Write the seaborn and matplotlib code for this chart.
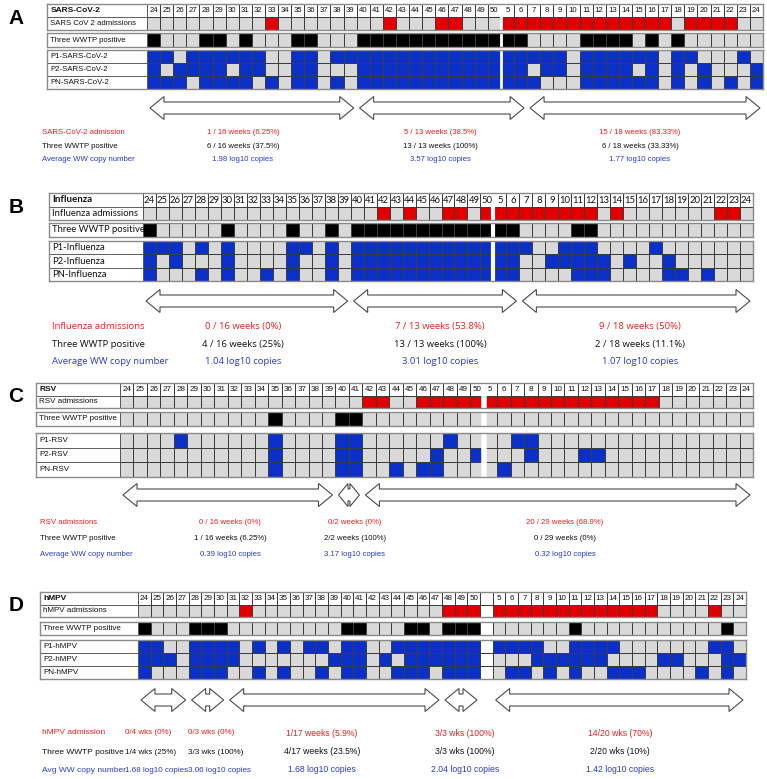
import numpy as np
import matplotlib
matplotlib.use("Agg")
import matplotlib.pyplot as plt
import seaborn as sns
from matplotlib.colors import ListedColormap
from matplotlib.patches import Rectangle, Polygon

# ---------------- data ----------------
weeks_2023 = [24, 25, 26, 27, 28, 29, 30, 31, 32, 33, 34, 35, 36, 37, 38, 39,
              40, 41, 42, 43, 44, 45, 46, 47, 48, 49, 50]
weeks_2024 = [5, 6, 7, 8, 9, 10, 11, 12, 13, 14, 15, 16, 17, 18, 19, 20, 21, 22, 23, 24]

# 1 = positive / admission week, 0 = not ; "|" splits 2023 | 2024 weeks
sars_adm  = "000000000100000000100011000|11111111111110111100"
sars_wwtp = "100011010001100011111111111|11000011110101000000"
sars_p1   = "110111111001101111111111111|11111011111101100010"
sars_p2   = "101111011001100011111111111|11011011110101010001"
sars_pn   = "111011110101101011111111111|11100011111101010101"

flu_adm  = "000000000000000000101001101|11111111010000000110"
flu_wwtp = "100000100001001011111111111|11000011000000000000"
flu_p1   = "111010100001101011111111111|11100111000010000000"
flu_p2   = "101000100001001011111111111|11001111101001000000"
flu_pn   = "100010100101001011111111111|11000011100001101000"

rsv_adm  = "000000000000000000110011111|11111111111110000000"
rsv_wwtp = "000000000001000011000000000|00000000000000000000"
rsv_p1   = "000010000001000011000000100|00110000000000000000"
rsv_p2   = "000000000001000011000001001|00010001100000000000"
rsv_pn   = "000000000001000011001011000|01000000000000000000"

hmpv_adm  = "000000001000000000000000111|11111111111110000100"
hmpv_wwtp = "100011100000000011000110111|00000010000000000010"
hmpv_p1   = "110011110101011011001111111|11110011110000000110"
hmpv_p2   = "111011110000000111010111111|00011111100001100011"
hmpv_pn   = "100011100101001011001110111|01101010011100001010"

row_codes = [1, 2, 3, 3, 3]  # admissions red, WWTP black, P-rows blue

panels = [
    dict(letter="A", title="SARS-CoV-2",
         labels=["SARS CoV 2 admissions", "Three WWTP positive",
                 "P1-SARS-CoV-2", "P2-SARS-CoV-2", "PN-SARS-CoV-2"],
         rows=[sars_adm, sars_wwtp, sars_p1, sars_p2, sars_pn],
         periods=[(0, 16), (16, 29), (29, 47)],
         ann=[["SARS-CoV-2 admission", "1 / 16 weeks (6.25%)", "5 / 13 weeks (38.5%)", "15 / 18 weeks (83.33%)"],
              ["Three WWTP positive", "6 / 16 weeks (37.5%)", "13 / 13 weeks (100%)", "6 / 18 weeks (33.33%)"],
              ["Average WW copy number", "1.98 log10 copies", "3.57 log10 copies", "1.77 log10 copies"]]),
    dict(letter="B", title="Influenza",
         labels=["Influenza admissions", "Three WWTP positive",
                 "P1-Influenza", "P2-Influenza", "PN-Influenza"],
         rows=[flu_adm, flu_wwtp, flu_p1, flu_p2, flu_pn],
         periods=[(0, 16), (16, 29), (29, 47)],
         ann=[["Influenza admissions", "0 / 16 weeks (0%)", "7 / 13 weeks (53.8%)", "9 / 18 weeks (50%)"],
              ["Three WWTP positive", "4 / 16 weeks (25%)", "13 / 13 weeks (100%)", "2 / 18 weeks (11.1%)"],
              ["Average WW copy number", "1.04 log10 copies", "3.01 log10 copies", "1.07 log10 copies"]]),
    dict(letter="C", title="RSV",
         labels=["RSV admissions", "Three WWTP positive", "P1-RSV", "P2-RSV", "PN-RSV"],
         rows=[rsv_adm, rsv_wwtp, rsv_p1, rsv_p2, rsv_pn],
         periods=[(0, 16), (16, 18), (18, 47)],
         ann=[["RSV admissions", "0 / 16 weeks (0%)", "0/2 weeks (0%)", "20 / 29 weeks (68.9%)"],
              ["Three WWTP positive", "1 / 16 weeks (6.25%)", "2/2 weeks (100%)", "0 / 29 weeks (0%)"],
              ["Average WW copy number", "0.39 log10 copies", "3.17 log10 copies", "0.32 log10 copies"]]),
    dict(letter="D", title="hMPV",
         labels=["hMPV admissions", "Three WWTP positive", "P1-hMPV", "P2-hMPV", "PN-hMPV"],
         rows=[hmpv_adm, hmpv_wwtp, hmpv_p1, hmpv_p2, hmpv_pn],
         periods=[(0, 4), (4, 7), (7, 24), (24, 27), (28, 48)],
         ann=[["hMPV admission", "0/4 wks (0%)", "0/3 wks (0%)", "1/17 weeks (5.9%)", "3/3 wks (100%)", "14/20 wks (70%)"],
              ["Three WWTP positive", "1/4 wks (25%)", "3/3 wks (100%)", "4/17 weeks (23.5%)", "3/3 wks (100%)", "2/20 wks (10%)"],
              ["Avg WW copy number", "1.68 log10 copies", "3.06 log10 copies", "1.68 log10 copies", "2.04 log10 copies", "1.42 log10 copies"]]),
]

# ---------------- layout (pixels) ----------------
NARROW = ["Liberation Sans Narrow", "Liberation Sans"]
geom = {
    "A": dict(lx=47, cx=147, rx=763, g=[(4, 30), (33, 47), (50, 89)], gap=2.0, blank=False,
              fs=5.6, tfs=6.0, font=["Liberation Sans"], afont=["Liberation Sans"],
              arrow_y=108, ann_y=[132, 146, 159], ann_left=42,
              ann_x=[243, 440, 640], ann_ha=["center"] * 3, ann_fs=[5.6] * 3, afs=5.6),
    "B": dict(lx=49, cx=143, rx=753, g=[(193, 220), (223, 237), (241, 281)], gap=3.0, blank=False,
              fs=6.8, tfs=7.0, font=["Lato"], afont=["Open Sans"],
              arrow_y=301, ann_y=[326, 344, 361], ann_left=52,
              ann_x=[243, 440, 640], ann_ha=["center"] * 3, ann_fs=[6.8] * 3, afs=6.8),
    "C": dict(lx=36, cx=120, rx=753, g=[(383, 408), (412, 426), (433, 477)], gap=4.0, blank=False,
              fs=5.8, tfs=6.0, font=["Liberation Sans"], afont=["Liberation Sans"],
              arrow_y=495, ann_y=[523, 539, 554], ann_left=40,
              ann_x=[230, 355, 565], ann_ha=["center"] * 3, ann_fs=[5.6] * 3, afs=5.6),
    "D": dict(lx=40, cx=138, rx=746, g=[(592, 617), (622, 635), (640, 679)], gap=0, blank=True,
              fs=5.8, tfs=6.0, font=NARROW, afont=NARROW,
              arrow_y=700, ann_y=[733, 752, 770], ann_left=42,
              ann_x=[125, 188, 322, 465, 620],
              ann_ha=["left", "left", "center", "center", "center"],
              ann_fs=[5.8, 5.8, 6.2, 6.2, 6.2], afs=6.0),
}

W, H = 767, 779
GREY, RED, BLACK, BLUE, WHITE = "#d9d9d9", "#e00000", "#000000", "#0a30c8", "#ffffff"
EDGE = "#3c3c3c"
FRAME = "#8a8a8a"
CMAP = ListedColormap([GREY, RED, BLACK, BLUE, WHITE])
TXT_RED, TXT_BLUE = "#e8201e", "#2a3cc4"

fig = plt.figure(figsize=(W / 100, H / 100), dpi=100)
fig.patch.set_facecolor("white")


def add_ax(x0, y0, x1, y1):
    return fig.add_axes([x0 / W, 1 - y1 / H, (x1 - x0) / W, (y1 - y0) / H])


def row_values(s, code, blank):
    a, b = s.split("|")
    vals = [code if c == "1" else 0 for c in a]
    if blank:
        vals.append(4)
    vals += [code if c == "1" else 0 for c in b]
    return vals


overlay = fig.add_axes([0, 0, 1, 1], zorder=10)
overlay.set_xlim(0, W)
overlay.set_ylim(H, 0)
overlay.axis("off")
overlay.patch.set_alpha(0)


def darrow(xa, xb, yc, h=23, body=12, head=14):
    head = min(head, (xb - xa) / 2.2)
    pts = [(xa, yc), (xa + head, yc - h / 2), (xa + head, yc - body / 2),
           (xb - head, yc - body / 2), (xb - head, yc - h / 2), (xb, yc),
           (xb - head, yc + h / 2), (xb - head, yc + body / 2),
           (xa + head, yc + body / 2), (xa + head, yc + h / 2)]
    overlay.add_patch(Polygon(pts, closed=True, fill=False, edgecolor="#4a4a4a", lw=0.8))


for p in panels:
    gm = geom[p["letter"]]
    blank = gm["blank"]
    header = [str(w) for w in weeks_2023] + ([""] if blank else []) + [str(w) for w in weeks_2024]
    ncols = len(header)
    colw = (gm["rx"] - gm["cx"]) / ncols
    L = (gm["cx"] - gm["lx"]) / colw
    vals = [row_values(s, c, blank) for s, c in zip(p["rows"], row_codes)]

    groups = [
        (np.array([[4] * ncols, vals[0]]), [p["title"], p["labels"][0]], True),
        (np.array([vals[1]]), [p["labels"][1]], False),
        (np.array(vals[2:5]), p["labels"][2:5], False),
    ]
    for (mat, labs, has_header), (y0, y1) in zip(groups, gm["g"]):
        ax = add_ax(gm["lx"], y0, gm["rx"], y1)
        sns.heatmap(mat, ax=ax, cmap=CMAP, vmin=-0.5, vmax=4.5, cbar=False,
                    linewidths=0.5, linecolor=EDGE, xticklabels=False, yticklabels=False)
        nr = mat.shape[0]
        ax.set_xlim(-L, ncols)
        ax.set_ylim(nr, 0)
        for r, lab in enumerate(labs):
            ax.add_patch(Rectangle((-L, r), L, 1, facecolor="white", edgecolor=EDGE, lw=0.5))
            ax.text(-L + 0.25, r + 0.5, lab, ha="left", va="center",
                    fontsize=gm["tfs"] if (has_header and r == 0) else gm["fs"],
                    fontweight="bold" if (has_header and r == 0) else "normal",
                    family=gm["font"], color="#111111")
        if has_header:
            for i, t in enumerate(header):
                ax.text(i + 0.5, 0.52, t, ha="center", va="center", fontsize=gm["fs"],
                        family=gm["font"], color="#111111")
        if gm["gap"]:
            ax.axvline(27, color="white", lw=gm["gap"])
        for s in ax.spines.values():
            s.set_visible(True)
            s.set_color(FRAME)
            s.set_linewidth(1.0)

    # panel letter
    overlay.text(16, (gm["g"][0][0] + gm["g"][0][1]) / 2 + 1, p["letter"], ha="center", va="center",
                 fontsize=15, fontweight="bold", family="Liberation Sans")

    # period arrows
    for c0, c1 in p["periods"]:
        xa = gm["cx"] + c0 * colw + 3
        xb = gm["cx"] + c1 * colw - 3
        darrow(xa, xb, gm["arrow_y"])

    # annotations
    colors = [TXT_RED, "#111111", TXT_BLUE]
    for k, line in enumerate(p["ann"]):
        overlay.text(gm["ann_left"], gm["ann_y"][k], line[0], ha="left", va="center",
                     fontsize=gm["afs"], color=colors[k], family=gm["afont"])
        for x, ha, fsz, t in zip(gm["ann_x"], gm["ann_ha"], gm["ann_fs"], line[1:]):
            overlay.text(x, gm["ann_y"][k], t, ha=ha, va="center",
                         fontsize=fsz, color=colors[k], family=gm["afont"])

fig.savefig("out.png", dpi=100, facecolor="white")
